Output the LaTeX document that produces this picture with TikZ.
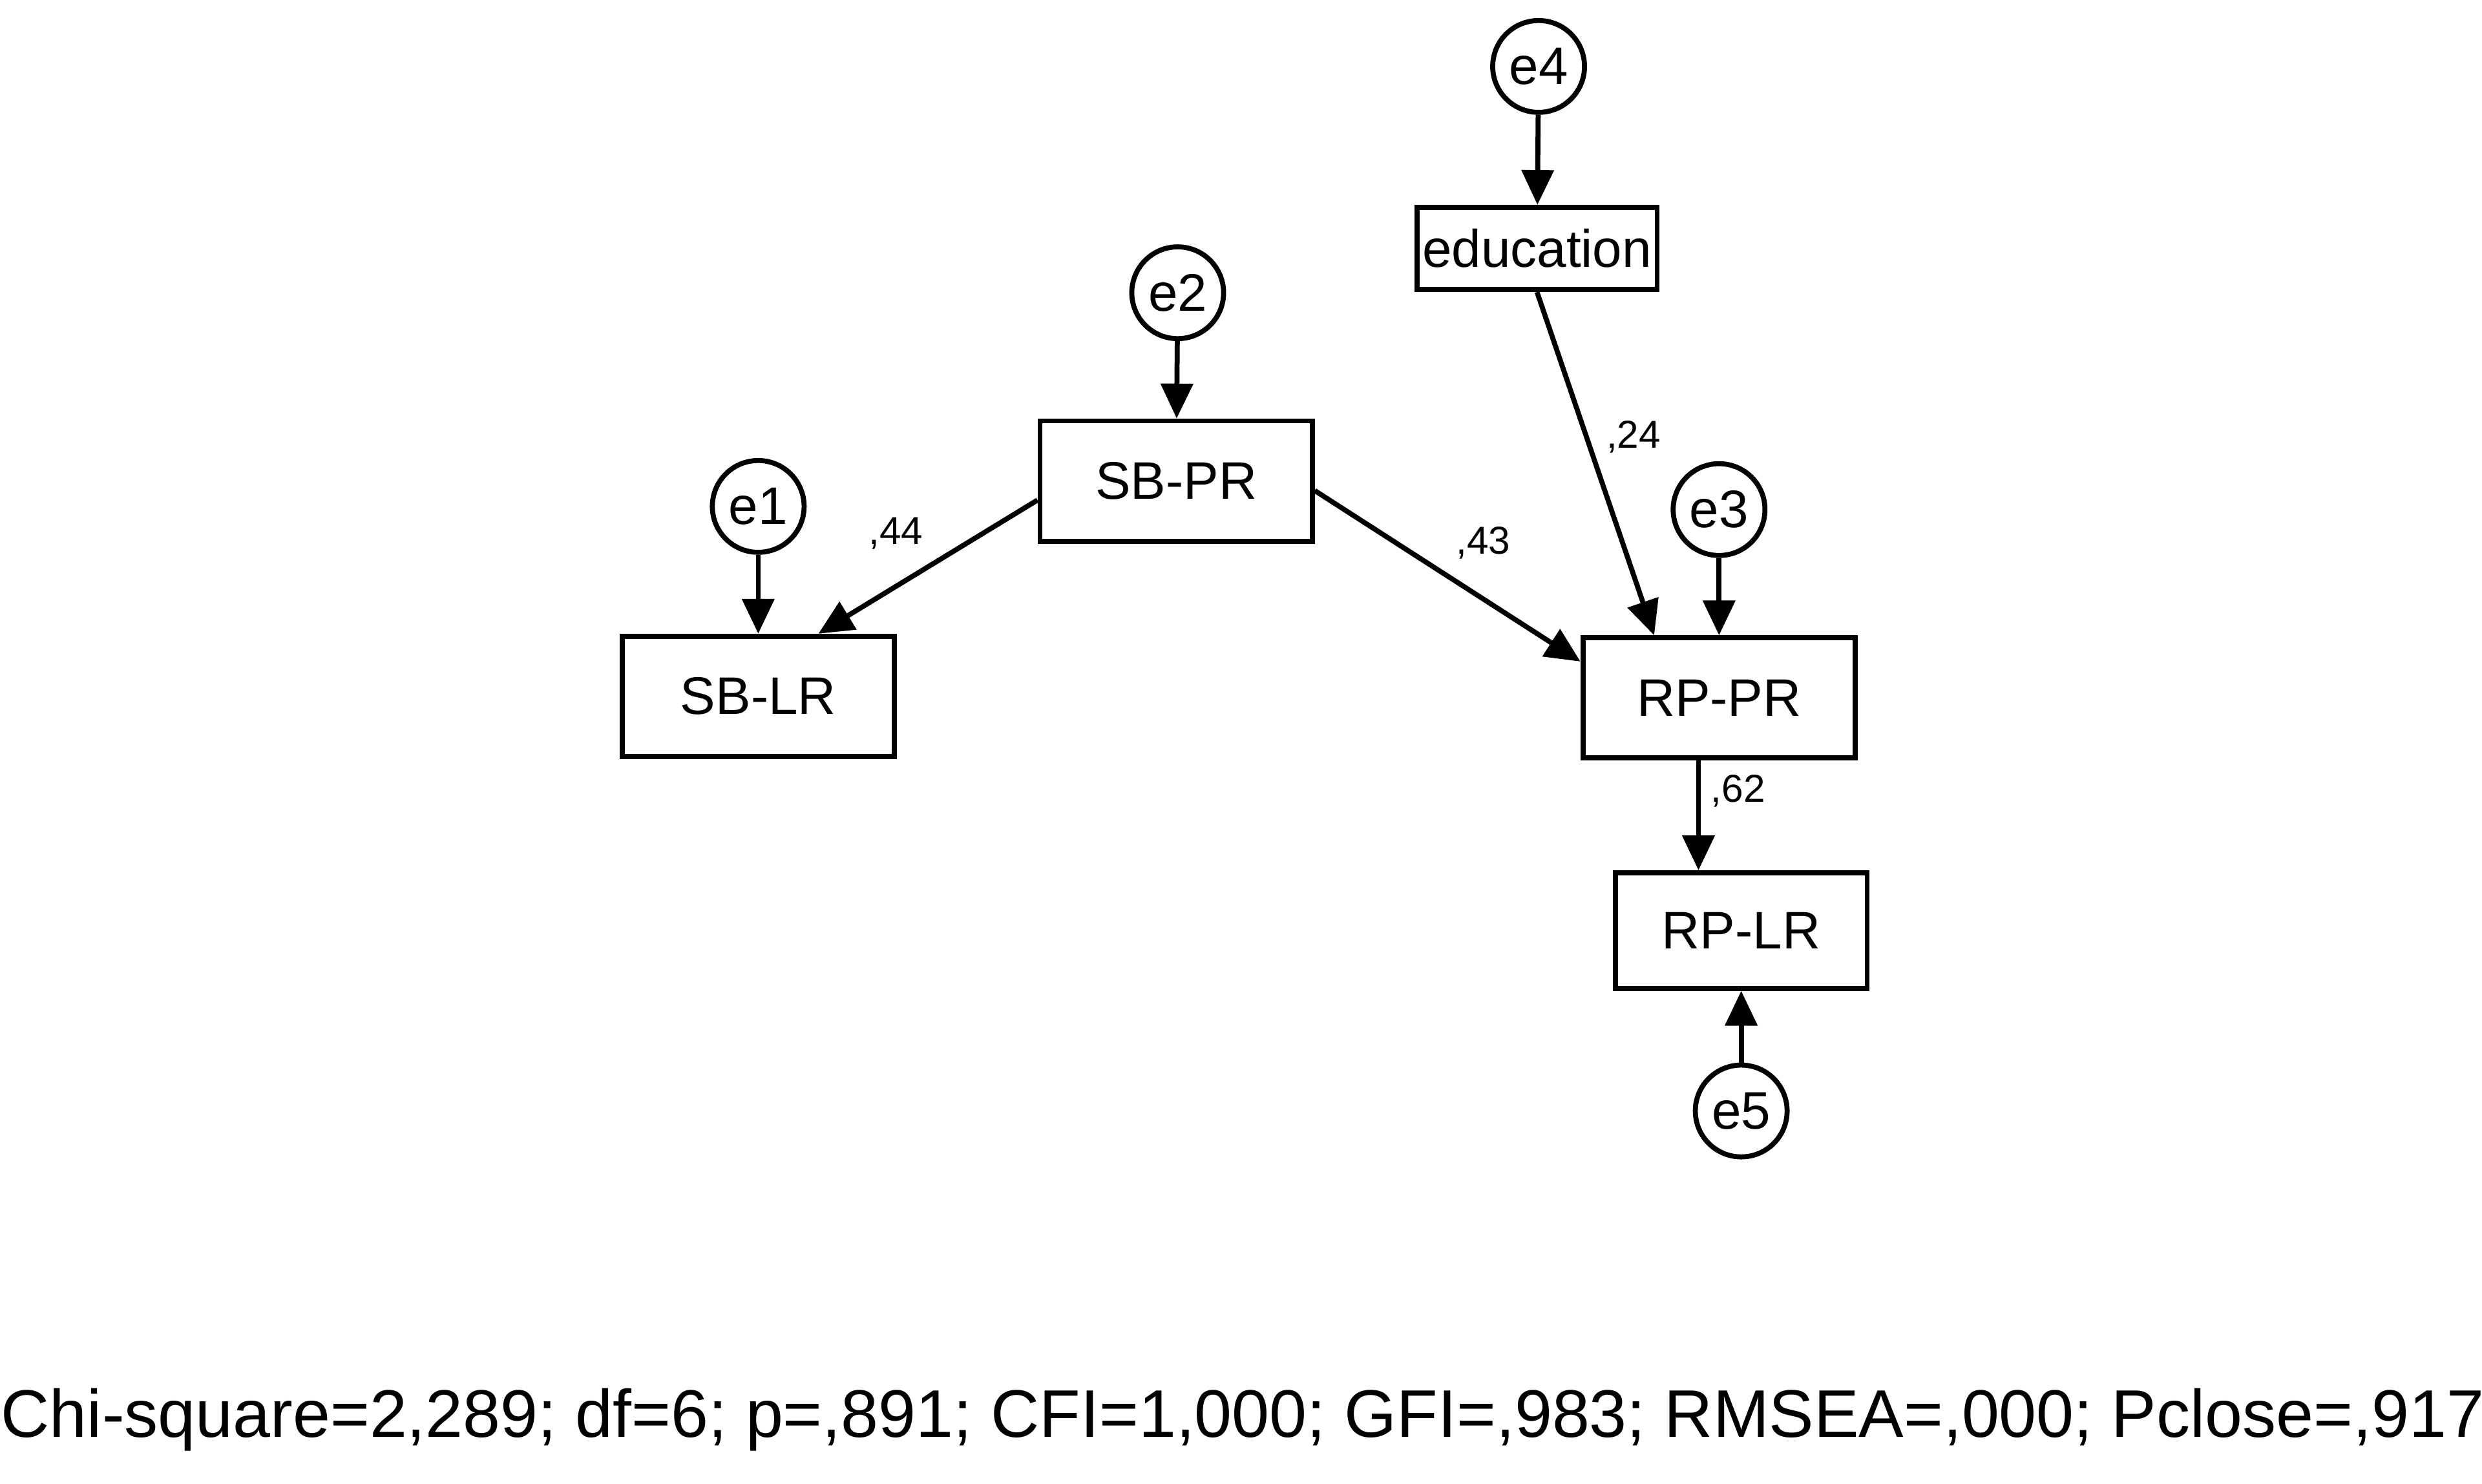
\documentclass[tikz,border=0pt]{standalone}
\usepackage{fontspec}
\setmainfont{Liberation Sans}
\usetikzlibrary{arrows.meta}
\begin{document}
\begin{tikzpicture}[
    var/.style={draw,line width=0.9pt,minimum width=1.72cm,minimum height=0.76cm,font=\fontsize{9.5}{11}\selectfont},
    err/.style={draw,circle,line width=0.9pt,minimum size=0.58cm,inner sep=0pt,font=\fontsize{9.5}{11}\selectfont},
    path/.style={line width=0.9pt,-{Triangle[length=2.2mm,width=2mm]}},
    coef/.style={font=\fontsize{7}{8}\selectfont}]
        \useasboundingbox (0,0) rectangle (15.68,-9.377);
        % variables
        \node[var,minimum width=1.51cm,minimum height=0.52cm,inner xsep=1pt] (edu) at (9.71,-1.57) {education};
        \node[var] (sbpr) at (7.43,-3.04) {SB-PR};
        \node[var] (sblr) at (4.79,-4.40) {SB-LR};
        \node[var] (rppr) at (10.86,-4.41) {RP-PR};
        \node[var,minimum width=1.59cm,minimum height=0.73cm] (rplr) at (11.00,-5.88) {RP-LR};
        % errors
        \node[err] (e4) at (9.72,-0.42) {e4};
        \node[err] (e2) at (7.44,-1.85) {e2};
        \node[err] (e1) at (4.79,-3.20) {e1};
        \node[err] (e3) at (10.86,-3.22) {e3};
        \node[err] (e5) at (11.00,-7.02) {e5};
        % paths
        \draw[path] (e4) -- (edu);
        \draw[path] (e2) -- (sbpr);
        \draw[path] (e1) -- (sblr);
        \draw[path] (e3) -- (rppr);
        \draw[path] (e5) -- (rplr);
        \draw[path] ([yshift=-0.12cm]sbpr.west) -- ([xshift=0.38cm]sblr.north);
        \draw[path] ([yshift=-0.06cm]sbpr.east) -- ([yshift=0.23cm]rppr.west);
        \draw[path] (edu.south) -- ([xshift=-0.41cm]rppr.north);
        \draw[path] ([xshift=-0.13cm]rppr.south) -- ([xshift=-0.27cm]rplr.north);
        % estimates
        \node[coef] (c44) at (5.66,-3.37) {,44};
        \node[coef] (c43) at (9.37,-3.43) {,43};
        \node[coef] (c24) at (10.32,-2.76) {,24};
        \node[coef] (c62) at (10.98,-5.00) {,62};
        \node[font=\fontsize{12.1}{14}\selectfont] (fit) at (7.85,-8.97)
            {Chi-square=2,289; df=6; p=,891; CFI=1,000; GFI=,983; RMSEA=,000; Pclose=,917};
\end{tikzpicture}
\end{document}
